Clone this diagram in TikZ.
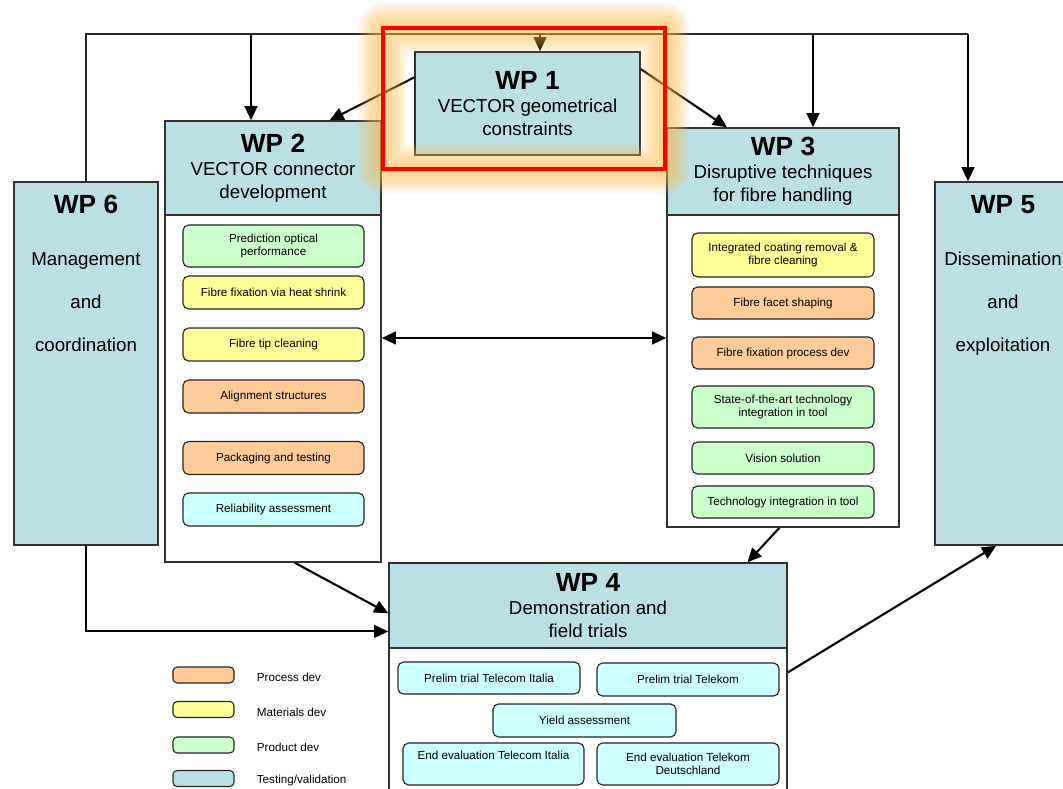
\documentclass[tikz,border=0pt]{standalone}
\usepackage{fontspec}
\setmainfont{Liberation Sans}
\usetikzlibrary{positioning, arrows.meta, calc}
\definecolor{wpblue}{RGB}{187,224,227}
\definecolor{cProc}{RGB}{255,204,153}
\definecolor{cMat}{RGB}{255,255,153}
\definecolor{cProd}{RGB}{204,255,204}
\definecolor{cTest}{RGB}{204,255,255}
\definecolor{boxline}{RGB}{50,50,50}
\definecolor{glowcol}{RGB}{255,185,70}
\newcommand{\wpnum}{\fontsize{18.7}{18.7}\selectfont\bfseries}

\begin{document}
\begin{tikzpicture}[
        x=0.025cm, y=-0.025cm,
        >={Triangle[length=10pt, width=9pt]},
        font=\fontsize{13.3}{16.4}\selectfont,
        % Styles for work packages
        wphead/.style={
            rectangle, draw=boxline, line width=1pt, fill=wpblue,
            align=center, inner sep=0pt
        },
        wpbody/.style={
            rectangle, draw=boxline, line width=1pt, fill=white
        },
        sidetext/.style={
            align=center, inner sep=0pt,
            font=\fontsize{13.3}{30.6}\selectfont
        },
        % Styles for tasks
        task/.style={
            rectangle, rounded corners=4pt, draw=black!85, line width=0.8pt,
            align=center, inner sep=1pt,
            font=\fontsize{8.3}{9.6}\selectfont
        },
        proc/.style={task, fill=cProc},
        mat/.style={task, fill=cMat},
        prod/.style={task, fill=cProd},
        test/.style={task, fill=cTest},
        wp2task/.style={minimum width=4.525cm, minimum height=0.825cm},
        wp3task/.style={minimum width=4.55cm, minimum height=0.8cm},
        % Legend
        legsw/.style={task, minimum width=1.525cm, minimum height=0.4cm, inner sep=0pt, rounded corners=3pt},
        legtext/.style={inner sep=0pt, yshift=-0.06cm, font=\fontsize{8.3}{9.6}\selectfont},
        % Connectors
        bus/.style={draw=black!85, line width=0.9pt},
        flow/.style={draw=black, line width=1.5pt, ->},
        biflow/.style={draw=black, line width=1.5pt, <->}
    ]

    \useasboundingbox (0,0) rectangle (1063,788);

    % 1. WORK PACKAGES
    \node[wpbody, minimum width=5.4cm, minimum height=8.675cm] (WP2body) at (273,388.5) {};
    \node[wphead, minimum width=5.4cm, minimum height=2.35cm]  (WP2) at (273,168)
        {{\wpnum WP 2}\\VECTOR connector\\development};

    \node[wpbody, minimum width=5.8cm, minimum height=7.8cm]   (WP3body) at (783,371) {};
    \node[wphead, minimum width=5.8cm, minimum height=2.175cm] (WP3) at (783,171.5)
        {{\wpnum WP 3}\\Disruptive techniques\\for fibre handling};

    \node[wpbody, minimum width=9.95cm, minimum height=3.8cm]   (WP4body) at (588,724) {};
    \node[wphead, minimum width=9.95cm, minimum height=2.125cm] (WP4) at (588,605.5)
        {{\wpnum WP 4}\\Demonstration and\\field trials};

    \node[wphead, minimum width=5.625cm, minimum height=2.575cm] (WP1) at (527.5,103.5)
        {{\wpnum WP 1}\\VECTOR geometrical\\constraints};

    \node[wphead, minimum width=3.6cm, minimum height=9.075cm] (WP6) at (86,363.5) {};
    \node[sidetext, anchor=north] (WP6txt) at ($(WP6.north)+(0,14)$)
        {{\wpnum WP 6}\\[6pt]Management\\and\\coordination};

    \node[wphead, minimum width=3.4cm, minimum height=9.075cm] (WP5) at (1003,363.5) {};
    \node[sidetext, anchor=north] (WP5txt) at ($(WP5.north)+(0,14)$)
        {{\wpnum WP 5}\\[6pt]Dissemination\\and\\exploitation};

    % 2. TASKS
    % WP 2 tasks
    \node[prod, wp2task, minimum height=1.05cm] (T21) at (273.5,246) {Prediction optical\\performance};
    \node[mat,  wp2task] (T22) at (273.5,292.5) {Fibre fixation via heat shrink};
    \node[mat,  wp2task] (T23) at (273.5,344.5) {Fibre tip cleaning};
    \node[proc, wp2task] (T24) at (273.5,396.5) {Alignment structures};
    \node[proc, wp2task] (T25) at (273.5,458)   {Packaging and testing};
    \node[test, wp2task] (T26) at (273.5,509.5) {Reliability assessment};

    % WP 3 tasks
    \node[mat,  wp3task, minimum height=1.1cm]  (T31) at (783,255) {Integrated coating removal \&\\fibre cleaning};
    \node[proc, wp3task] (T32) at (783,303) {Fibre facet shaping};
    \node[proc, wp3task] (T33) at (783,353) {Fibre fixation process dev};
    \node[prod, wp3task, minimum height=1.05cm] (T34) at (783,407) {State-of-the-art technology\\integration in tool};
    \node[prod, wp3task] (T35) at (783,458) {Vision solution};
    \node[prod, wp3task] (T36) at (783,502) {Technology integration in tool};

    % WP 4 tasks
    \node[test, minimum width=4.55cm,  minimum height=0.8cm]   (T41) at (489,678)     {Prelim trial Telecom Italia};
    \node[test, minimum width=4.55cm,  minimum height=0.825cm] (T42) at (688,679.5)   {Prelim trial Telekom};
    \node[test, minimum width=4.575cm, minimum height=0.825cm] (T43) at (584.5,720.5) {Yield assessment};
    \node[test, minimum width=4.525cm, minimum height=1.05cm]  (T44) at (493.5,764)   {End evaluation Telecom Italia\\\strut};
    \node[test, minimum width=4.55cm,  minimum height=1.05cm]  (T45) at (688,764)     {End evaluation Telekom\\Deutschland};

    % 3. LEGEND
    \node[legsw, fill=cProc]  (L1) at (203.5,675)   {};
    \node[legsw, fill=cMat]   (L2) at (203.5,709.5) {};
    \node[legsw, fill=cProd]  (L3) at (203.5,745)   {};
    \node[legsw, fill=wpblue] (L4) at (203.5,778.5) {};
    \node[legtext, right=0.55cm of L1] (L1t) {Process dev};
    \node[legtext, right=0.55cm of L2] (L2t) {Materials dev};
    \node[legtext, right=0.55cm of L3] (L3t) {Product dev};
    \node[legtext, right=0.55cm of L4] (L4t) {Testing/validation};

    % 4. CONNECTORS
    % Management line over the top
    \coordinate (d2) at (251,34);
    \coordinate (d1) at (540,34);
    \coordinate (d3) at (813,34);
    \coordinate (d5) at (968,34);
    \draw[bus] (WP6.north) |- (d5);
    \draw[flow] (d2) -- (d2 |- WP2.north);
    \draw[flow] (d1) -- (d1 |- WP1.north);
    \draw[flow] (d3) -- (d3 |- WP3.north);
    \draw[flow] (d5) -- (d5 |- WP5.north);

    % WP 1 to WP 2 and WP 3
    \draw[flow] ($(WP1.north west)!0.25!(WP1.south west)$) -- ($(WP2.north west)!0.76!(WP2.north east)$);
    \draw[flow] ($(WP1.north east)!0.17!(WP1.south east)$) -- ($(WP3.north west)!0.26!(WP3.north east)$);

    % WP 2 <-> WP 3
    \draw[biflow] (WP2body.east |- 0,338) -- (WP3body.west |- 0,338);

    % into WP 4
    \draw[flow] ($(WP2body.south west)!0.6!(WP2body.south east)$) -- ($(WP4.north west)!0.59!(WP4.south west)$);
    \draw[flow] (WP6.south) |- ($(WP4.north west)!0.8!(WP4.south west)$);
    \draw[flow] ($(WP3body.south west)!0.485!(WP3body.south east)$) -- ($(WP4.north west)!0.899!(WP4.north east)$);

    % WP 4 to WP 5
    \draw[flow] ($(WP4body.north east)!0.164!(WP4body.south east)$) -- ($(WP5.south west)!0.45!(WP5.south east)$);

    % 5. HIGHLIGHT ROUND WP 1
    \coordinate (hlNW) at (383,28);
    \coordinate (hlSE) at (665,169);
    \foreach \w in {3,6,...,36}
        \draw[glowcol, line width=\w pt, draw opacity=0.08, line join=round] (hlNW) rectangle (hlSE);
    \draw[red, line width=3pt] (hlNW) rectangle (hlSE);

\end{tikzpicture}
\end{document}
